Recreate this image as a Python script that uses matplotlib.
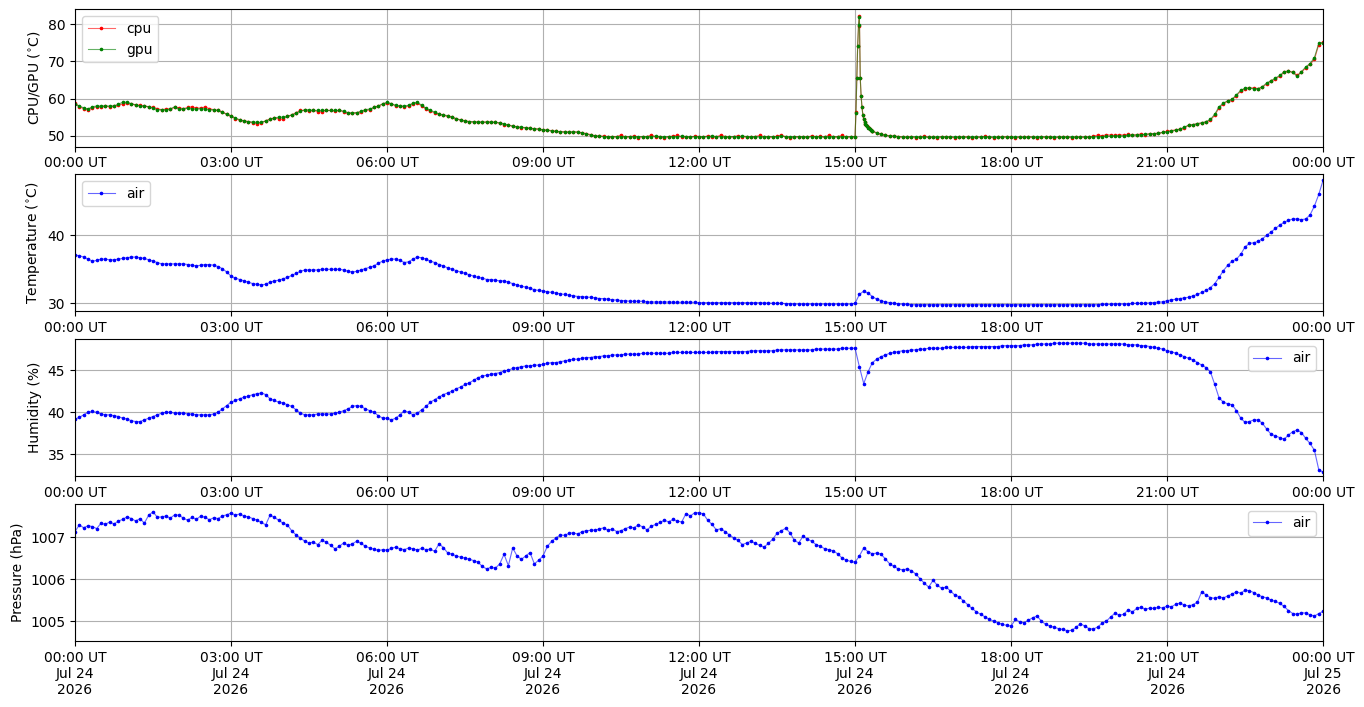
import numpy as np
import pandas as pd
import matplotlib
matplotlib.use('Agg')
import matplotlib.pyplot as plt
import matplotlib.dates as mdates

start = pd.Timestamp('2026-07-24 00:00')
end = pd.Timestamp('2026-07-25 00:00')

# cpu / gpu temperatures: 5 min samples 00:00-14:55, 1 min 15:00-15:19, 5 min 15:20-24:00
cpu_day = [
    58.8, 57.8, 57.3, 57.0, 57.5, 57.8, 57.8, 58.0, 57.8, 58.0, 58.2, 58.6,
    58.8, 58.6, 58.3, 58.2, 58.0, 57.8, 57.6, 57.3, 57.0, 57.2, 57.2, 57.6,
    57.5, 57.3, 57.6, 57.8, 57.4, 57.5, 57.7, 57.3, 57.0, 56.8, 56.4, 55.8,
    55.3, 54.6, 54.2, 54.0, 53.8, 53.5, 53.2, 53.5, 54.0, 54.5, 54.8, 54.6,
    54.5, 55.2, 55.6, 56.2, 56.8, 56.8, 56.6, 56.8, 56.5, 56.5, 56.8, 56.8,
    56.6, 56.8, 56.5, 56.0, 56.0, 56.2, 56.4, 56.8, 57.0, 57.6, 58.0, 58.5,
    58.8, 58.6, 58.0, 58.0, 57.8, 58.0, 58.6, 58.8, 58.0, 57.2, 56.6, 56.2,
    55.8, 55.5, 55.2, 55.0, 54.5, 54.3, 54.0, 53.8, 53.7, 53.7, 53.6, 53.7,
    53.7, 53.6, 53.4, 53.0, 52.8, 52.6, 52.4, 52.2, 52.2, 52.0, 51.9, 51.8,
    51.6, 51.5, 51.4, 51.2, 51.1, 51.1, 51.0, 51.0, 51.0, 50.8, 50.6, 50.3,
    50.0, 49.9, 49.9, 49.6, 49.8, 49.8, 50.2, 49.6, 49.8, 49.9, 49.5, 49.8,
    49.8, 50.2, 49.7, 49.8, 49.5, 49.8, 49.9, 50.1, 49.7, 49.8, 49.6, 49.9,
    49.8, 49.6, 50.0, 49.8, 49.7, 50.2, 49.8, 49.6, 49.8, 50.0, 49.7, 49.8,
    49.6, 49.8, 50.1, 49.7, 49.8, 49.6, 49.9, 50.2, 49.7, 49.5, 49.8, 49.7,
    49.8, 49.6, 50.0, 49.7, 49.9, 49.6, 50.2, 49.7, 49.8, 50.1, 49.6, 49.8,
]
gpu_day = [
    58.5, 58.0, 57.5, 57.2, 57.8, 58.0, 58.0, 58.0, 58.0, 58.0, 58.5, 59.0,
    59.0, 58.6, 58.3, 58.0, 58.0, 57.8, 57.4, 57.0, 57.0, 57.0, 57.2, 57.8,
    57.2, 57.2, 57.4, 57.2, 57.2, 57.3, 57.2, 57.0, 57.0, 56.8, 56.3, 55.8,
    55.3, 54.8, 54.3, 54.0, 53.8, 53.7, 53.6, 53.6, 54.0, 54.4, 54.8, 55.0,
    55.0, 55.2, 55.6, 56.0, 56.6, 57.0, 57.0, 56.8, 56.8, 56.8, 56.8, 56.8,
    56.8, 56.8, 56.6, 56.2, 56.2, 56.2, 56.6, 57.0, 57.2, 57.6, 58.0, 58.6,
    59.0, 58.6, 58.2, 58.0, 58.0, 58.2, 58.8, 59.0, 58.2, 57.4, 56.8, 56.4,
    55.8, 55.6, 55.4, 55.0, 54.6, 54.2, 54.0, 53.8, 53.8, 53.7, 53.7, 53.7,
    53.7, 53.6, 53.5, 53.2, 52.9, 52.6, 52.4, 52.3, 52.2, 52.0, 51.9, 51.8,
    51.6, 51.5, 51.3, 51.2, 51.1, 51.0, 51.0, 51.1, 51.0, 50.8, 50.5, 50.2,
    50.0, 49.9, 49.8, 49.8, 49.8, 49.7, 49.8, 49.8, 49.8, 49.8, 49.8, 49.8,
    49.8, 49.8, 49.9, 49.8, 49.7, 49.8, 49.8, 49.8, 49.9, 49.8, 49.8, 49.8,
    49.8, 49.8, 49.8, 49.9, 49.8, 49.8, 49.7, 49.8, 49.8, 49.8, 49.9, 49.8,
    49.8, 49.8, 49.7, 49.8, 49.8, 49.8, 49.8, 49.9, 49.8, 49.8, 49.7, 49.8,
    49.8, 49.7, 49.8, 49.8, 49.8, 49.7, 49.8, 49.8, 49.7, 49.8, 49.8, 49.8,
]
cpu_spike = [49.8, 56.5, 65.5, 74.0, 79.5, 82.2, 65.5, 60.6, 57.8, 55.7,
             54.4, 53.8, 53.3, 52.9, 52.6, 52.3, 52.1, 51.8, 51.6, 51.4]
gpu_spike = [49.8, 56.0, 65.5, 74.1, 79.8, 81.8, 65.5, 60.6, 57.6, 55.5,
             54.4, 53.7, 53.3, 52.9, 52.6, 52.2, 52.0, 51.8, 51.6, 51.4]
cpu_eve = [
    51.2, 50.8, 50.4, 50.2, 50.0, 49.9, 49.8, 49.7,
    49.6, 49.8, 49.5, 49.7, 49.9, 49.6, 49.7, 49.5, 49.8, 49.6, 49.7, 49.5,
    49.7, 49.6, 49.8, 49.5, 49.7, 49.6, 49.9, 49.6, 49.5, 49.7, 49.6, 49.8,
    49.6, 49.5, 49.7, 49.6, 49.8, 49.6, 49.5, 49.7, 49.6, 49.8, 49.5, 49.7,
    49.6, 49.7, 49.5, 49.8, 49.6, 49.7, 49.6, 49.9, 50.2, 50.0, 50.3, 50.2,
    50.1, 50.3, 50.2, 50.4, 50.2, 50.3, 50.5, 50.3, 50.6, 50.5, 50.7, 50.9,
    51.2, 51.4, 51.6, 51.8, 52.2, 52.8, 53.0, 53.2, 53.4, 53.7, 54.2, 55.5,
    57.5, 58.6, 59.3, 59.7, 60.8, 62.0, 62.7, 62.9, 62.8, 62.7, 63.0, 64.0,
    64.6, 65.3, 66.0, 67.0, 67.3, 67.1, 66.3, 67.0, 68.3, 69.2, 70.5, 74.5,
    75.2,
]
gpu_eve = [
    51.2, 50.8, 50.4, 50.1, 50.0, 49.9, 49.8, 49.7,
    49.7, 49.7, 49.8, 49.7, 49.7, 49.6, 49.7, 49.7, 49.7, 49.8, 49.7, 49.7,
    49.7, 49.7, 49.6, 49.7, 49.7, 49.7, 49.8, 49.7, 49.7, 49.6, 49.7, 49.7,
    49.7, 49.7, 49.7, 49.6, 49.7, 49.7, 49.7, 49.8, 49.7, 49.7, 49.6, 49.7,
    49.7, 49.7, 49.7, 49.6, 49.7, 49.7, 49.7, 49.7, 49.8, 49.8, 49.9, 49.9,
    50.0, 50.0, 50.0, 50.1, 50.2, 50.2, 50.3, 50.4, 50.5, 50.6, 50.7, 50.9,
    51.1, 51.3, 51.5, 51.8, 52.3, 52.9, 53.0, 53.3, 53.5, 53.8, 54.4, 55.8,
    57.8, 58.8, 59.4, 59.8, 61.0, 62.2, 62.8, 62.8, 62.7, 62.6, 63.2, 64.2,
    64.8, 65.5, 66.2, 67.2, 67.4, 67.0, 66.0, 67.2, 68.5, 69.4, 71.0, 74.8,
    75.0,
]

# air sensor, 5 min samples 00:00-24:00
air_temp = [
    37.1, 37.0, 36.8, 36.5, 36.2, 36.3, 36.5, 36.5, 36.4, 36.4, 36.5, 36.6,
    36.7, 36.8, 36.8, 36.7, 36.6, 36.4, 36.2, 36.0, 35.8, 35.8, 35.8, 35.8,
    35.8, 35.8, 35.7, 35.6, 35.5, 35.6, 35.7, 35.7, 35.6, 35.4, 35.1, 34.6,
    34.0, 33.7, 33.5, 33.3, 33.1, 32.9, 32.8, 32.7, 32.8, 33.1, 33.3, 33.4,
    33.6, 33.8, 34.1, 34.4, 34.7, 34.9, 34.9, 34.9, 34.9, 35.0, 35.0, 35.0,
    35.0, 35.0, 34.9, 34.7, 34.6, 34.7, 34.9, 35.1, 35.3, 35.5, 35.9, 36.2,
    36.4, 36.5, 36.5, 36.3, 36.0, 36.1, 36.5, 36.8, 36.7, 36.5, 36.2, 36.0,
    35.7, 35.5, 35.2, 35.0, 34.8, 34.6, 34.4, 34.2, 34.0, 33.8, 33.7, 33.5,
    33.5, 33.4, 33.3, 33.3, 33.1, 32.9, 32.7, 32.5, 32.4, 32.2, 32.0, 31.9,
    31.8, 31.7, 31.6, 31.5, 31.4, 31.3, 31.2, 31.1, 31.0, 31.0, 30.9, 30.9,
    30.8, 30.7, 30.7, 30.6, 30.5, 30.5, 30.4, 30.4, 30.3, 30.3, 30.3, 30.3,
    30.2, 30.2, 30.2, 30.2, 30.2, 30.2, 30.15, 30.15, 30.15, 30.15, 30.15, 30.15,
    30.1, 30.1, 30.1, 30.1, 30.1, 30.1, 30.1, 30.1, 30.1, 30.1, 30.1, 30.1,
    30.1, 30.1, 30.1, 30.05, 30.05, 30.0, 30.0, 30.0, 29.95, 29.95, 29.9, 29.9,
    29.9, 29.9, 29.9, 29.9, 29.9, 29.9, 29.9, 29.9, 29.9, 29.9, 29.9, 29.9,
    30.0, 31.3, 31.8, 31.5, 31.0, 30.6, 30.4, 30.2, 30.1, 30.0, 29.9, 29.9,
    29.85, 29.8, 29.8, 29.8, 29.8, 29.8, 29.8, 29.8, 29.8, 29.8, 29.8, 29.8,
    29.8, 29.8, 29.8, 29.8, 29.8, 29.8, 29.8, 29.8, 29.8, 29.8, 29.8, 29.8,
    29.8, 29.8, 29.8, 29.8, 29.8, 29.8, 29.8, 29.8, 29.8, 29.8, 29.8, 29.8,
    29.8, 29.8, 29.8, 29.8, 29.8, 29.8, 29.8, 29.8, 29.8, 29.85, 29.85, 29.85,
    29.9, 29.9, 29.9, 29.9, 30.0, 30.0, 30.0, 30.0, 30.1, 30.1, 30.2, 30.2,
    30.4, 30.5, 30.6, 30.7, 30.8, 30.9, 31.1, 31.3, 31.6, 31.9, 32.3, 32.9,
    33.8, 34.8, 35.6, 36.2, 36.5, 37.2, 38.3, 38.8, 38.9, 39.1, 39.5, 40.0,
    40.5, 41.0, 41.5, 41.9, 42.2, 42.4, 42.4, 42.3, 42.4, 43.0, 44.3, 46.0,
    48.1,
]
air_hum = [
    39.2, 39.4, 39.7, 40.0, 40.1, 40.0, 39.8, 39.7, 39.7, 39.6, 39.5, 39.3,
    39.2, 39.0, 38.9, 38.9, 39.1, 39.3, 39.5, 39.7, 39.9, 40.0, 40.0, 39.9,
    39.9, 39.9, 39.8, 39.8, 39.7, 39.7, 39.7, 39.7, 39.8, 40.0, 40.4, 40.8,
    41.2, 41.4, 41.6, 41.8, 41.9, 42.1, 42.2, 42.3, 42.1, 41.6, 41.4, 41.2,
    41.1, 40.9, 40.7, 40.3, 39.9, 39.7, 39.7, 39.7, 39.8, 39.8, 39.8, 39.8,
    39.9, 40.0, 40.2, 40.4, 40.7, 40.8, 40.7, 40.4, 40.2, 40.0, 39.6, 39.3,
    39.3, 39.1, 39.3, 39.7, 40.2, 40.0, 39.7, 39.9, 40.3, 40.7, 41.2, 41.5,
    41.8, 42.1, 42.3, 42.5, 42.8, 43.0, 43.3, 43.5, 43.8, 44.1, 44.3, 44.4,
    44.5, 44.6, 44.7, 44.9, 45.0, 45.2, 45.3, 45.4, 45.5, 45.5, 45.6, 45.6,
    45.7, 45.8, 45.9, 45.9, 46.0, 46.1, 46.2, 46.3, 46.3, 46.4, 46.5, 46.5,
    46.6, 46.6, 46.7, 46.7, 46.8, 46.8, 46.8, 46.9, 46.9, 46.9, 46.9, 47.0,
    47.0, 47.0, 47.0, 47.0, 47.0, 47.0, 47.1, 47.1, 47.1, 47.1, 47.1, 47.1,
    47.1, 47.1, 47.1, 47.1, 47.2, 47.2, 47.2, 47.2, 47.2, 47.2, 47.2, 47.2,
    47.3, 47.3, 47.3, 47.3, 47.3, 47.3, 47.4, 47.4, 47.4, 47.4, 47.4, 47.4,
    47.4, 47.4, 47.4, 47.5, 47.5, 47.5, 47.5, 47.5, 47.5, 47.6, 47.6, 47.6,
    47.6, 45.4, 43.4, 44.8, 45.9, 46.3, 46.6, 46.8, 47.0, 47.1, 47.2, 47.3,
    47.3, 47.4, 47.4, 47.5, 47.5, 47.6, 47.6, 47.6, 47.6, 47.7, 47.7, 47.7,
    47.7, 47.7, 47.7, 47.8, 47.8, 47.8, 47.8, 47.8, 47.8, 47.8, 47.9, 47.9,
    47.9, 47.9, 47.9, 48.0, 48.0, 48.0, 48.1, 48.1, 48.1, 48.1, 48.2, 48.2,
    48.2, 48.2, 48.2, 48.2, 48.2, 48.2, 48.1, 48.1, 48.1, 48.1, 48.1, 48.1,
    48.1, 48.1, 48.1, 48.0, 48.0, 48.0, 47.9, 47.9, 47.8, 47.7, 47.6, 47.5,
    47.3, 47.2, 47.0, 46.8, 46.6, 46.4, 46.2, 45.9, 45.6, 45.3, 44.8, 43.3,
    41.7, 41.2, 41.0, 40.9, 40.2, 39.3, 38.8, 38.9, 39.1, 39.1, 38.7, 38.0,
    37.4, 37.2, 37.0, 36.8, 37.3, 37.7, 37.9, 37.6, 36.9, 36.3, 35.5, 33.2,
    32.9,
]
air_pres = [
    1007.13, 1007.29, 1007.22, 1007.27, 1007.25, 1007.20, 1007.33, 1007.30, 1007.36, 1007.31, 1007.38, 1007.42,
    1007.48, 1007.44, 1007.38, 1007.44, 1007.33, 1007.52, 1007.60, 1007.47, 1007.48, 1007.50, 1007.45, 1007.53,
    1007.52, 1007.45, 1007.40, 1007.47, 1007.42, 1007.50, 1007.47, 1007.41, 1007.46, 1007.44, 1007.50, 1007.53,
    1007.57, 1007.52, 1007.55, 1007.50, 1007.48, 1007.44, 1007.40, 1007.35, 1007.29, 1007.52, 1007.47, 1007.40,
    1007.33, 1007.29, 1007.15, 1007.05, 1006.98, 1006.90, 1006.86, 1006.88, 1006.82, 1006.92, 1006.88, 1006.80,
    1006.72, 1006.78, 1006.86, 1006.80, 1006.84, 1006.90, 1006.85, 1006.78, 1006.74, 1006.71, 1006.68, 1006.70,
    1006.69, 1006.73, 1006.76, 1006.72, 1006.70, 1006.74, 1006.72, 1006.69, 1006.73, 1006.70, 1006.71, 1006.66,
    1006.84, 1006.75, 1006.62, 1006.59, 1006.55, 1006.52, 1006.50, 1006.47, 1006.44, 1006.40, 1006.30, 1006.24,
    1006.28, 1006.26, 1006.36, 1006.59, 1006.32, 1006.74, 1006.55, 1006.47, 1006.55, 1006.63, 1006.36, 1006.45,
    1006.55, 1006.78, 1006.90, 1006.98, 1007.05, 1007.04, 1007.09, 1007.10, 1007.07, 1007.13, 1007.15, 1007.16,
    1007.17, 1007.19, 1007.22, 1007.16, 1007.19, 1007.13, 1007.15, 1007.20, 1007.24, 1007.22, 1007.29, 1007.24,
    1007.17, 1007.26, 1007.30, 1007.35, 1007.40, 1007.36, 1007.42, 1007.38, 1007.36, 1007.56, 1007.50, 1007.58,
    1007.58, 1007.55, 1007.40, 1007.30, 1007.17, 1007.20, 1007.13, 1007.05, 1006.98, 1006.92, 1006.82, 1006.86,
    1006.90, 1006.85, 1006.80, 1006.76, 1006.85, 1006.95, 1007.09, 1007.15, 1007.21, 1007.10, 1006.92, 1006.86,
    1007.02, 1006.95, 1006.90, 1006.82, 1006.78, 1006.72, 1006.70, 1006.67, 1006.60, 1006.50, 1006.45, 1006.42,
    1006.40, 1006.55, 1006.74, 1006.65, 1006.60, 1006.62, 1006.59, 1006.48, 1006.36, 1006.30, 1006.24, 1006.22,
    1006.24, 1006.20, 1006.12, 1006.01, 1005.90, 1005.81, 1005.97, 1005.85, 1005.78, 1005.81, 1005.72, 1005.62,
    1005.58, 1005.48, 1005.39, 1005.30, 1005.22, 1005.16, 1005.10, 1005.04, 1005.00, 1004.96, 1004.92, 1004.90,
    1004.88, 1005.04, 1004.98, 1004.96, 1005.02, 1005.08, 1005.12, 1005.00, 1004.92, 1004.88, 1004.85, 1004.82,
    1004.80, 1004.77, 1004.78, 1004.85, 1004.94, 1004.88, 1004.82, 1004.81, 1004.86, 1004.95, 1005.00, 1005.10,
    1005.19, 1005.14, 1005.16, 1005.27, 1005.22, 1005.30, 1005.33, 1005.28, 1005.31, 1005.30, 1005.33, 1005.31,
    1005.36, 1005.34, 1005.40, 1005.43, 1005.38, 1005.36, 1005.39, 1005.45, 1005.70, 1005.62, 1005.56, 1005.54,
    1005.58, 1005.55, 1005.60, 1005.64, 1005.70, 1005.66, 1005.74, 1005.72, 1005.68, 1005.62, 1005.58, 1005.55,
    1005.50, 1005.47, 1005.42, 1005.35, 1005.25, 1005.18, 1005.16, 1005.20, 1005.19, 1005.15, 1005.12, 1005.18,
    1005.23,
]

# sample times
t_air = pd.date_range(start, end, freq='5min').to_numpy()
t_cpu = np.concatenate([
    pd.date_range(start, periods=len(cpu_day), freq='5min').to_numpy(),
    pd.date_range('2026-07-24 15:00', periods=len(cpu_spike), freq='1min').to_numpy(),
    pd.date_range('2026-07-24 15:20', end, freq='5min').to_numpy(),
])
cpu = cpu_day + cpu_spike + cpu_eve
gpu = gpu_day + gpu_spike + gpu_eve


def style(c):
    rgb = matplotlib.colors.to_rgb(c)
    return dict(color=(*rgb, 0.6), lw=0.8, marker='.', ms=3.2, mfc=c, mec=c)


fig, ax = plt.subplots(4, 1, figsize=(13.64, 7.07), dpi=100)
fig.subplots_adjust(left=0.055, right=0.97, top=0.987, bottom=0.093, hspace=0.2)

ax[0].plot(t_cpu, cpu, label='cpu', **style('red'))
ax[0].plot(t_cpu, gpu, label='gpu', **style('green'))
ax[0].set_ylabel(r'CPU/GPU ($^{\circ}$C)')
ax[0].set_ylim(47.1, 84.0)
ax[0].legend(loc='upper left')

ax[1].plot(t_air, air_temp, label='air', **style('blue'))
ax[1].set_ylabel(r'Temperature ($^{\circ}$C)')
ax[1].set_ylim(28.8, 49.0)
ax[1].legend(loc='upper left')

ax[2].plot(t_air, air_hum, label='air', **style('blue'))
ax[2].set_ylabel('Humidity (%)')
ax[2].set_ylim(32.4, 48.7)
ax[2].legend(loc='upper right')

ax[3].plot(t_air, air_pres, label='air', **style('blue'))
ax[3].set_ylabel('Pressure (hPa)')
ax[3].set_ylim(1004.52, 1007.79)
ax[3].yaxis.get_major_formatter().set_useOffset(False)
ax[3].legend(loc='upper right')

for i, a in enumerate(ax):
    a.set_xlim(start, end)
    a.xaxis.set_major_locator(mdates.HourLocator(byhour=range(0, 24, 3)))
    if i < 3:
        a.xaxis.set_major_formatter(mdates.DateFormatter('%H:%M UT'))
    else:
        a.xaxis.set_major_formatter(mdates.DateFormatter('%H:%M UT\n%b %d\n%Y'))
    a.grid(True)

plt.savefig('out.png', dpi=100)
